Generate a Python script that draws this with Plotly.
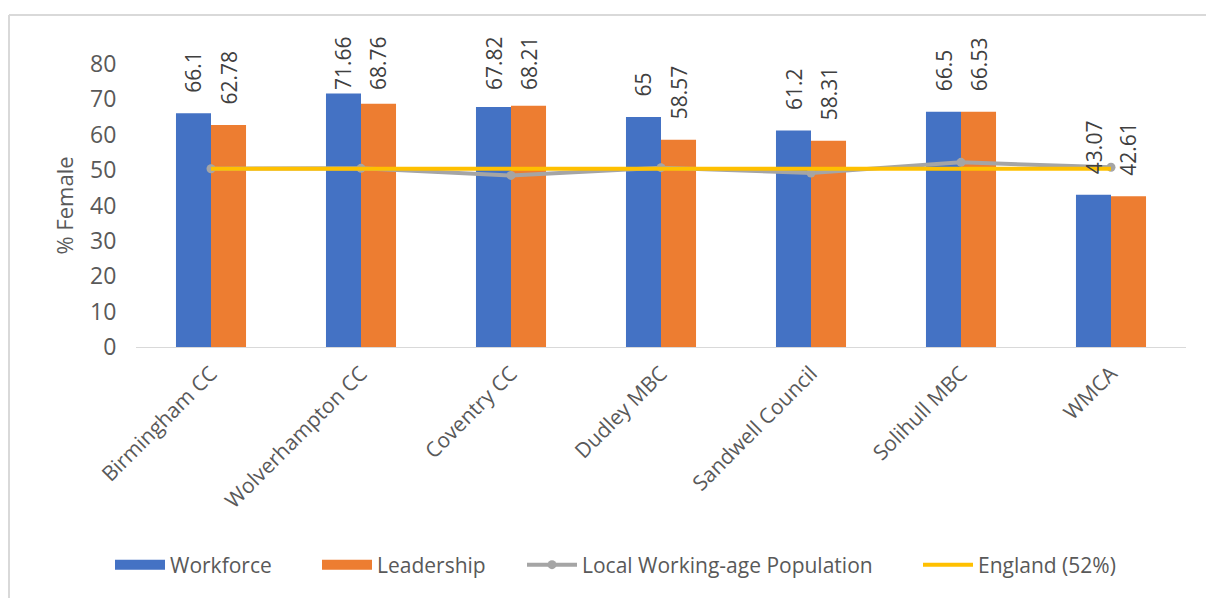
import plotly.graph_objects as go

categories = ["Birmingham CC", "Wolverhampton CC", "Coventry CC", "Dudley MBC",
              "Sandwell Council", "Solihull MBC", "WMCA"]
workforce = [66.1, 71.66, 67.82, 65, 61.2, 66.5, 43.07]
leadership = [62.78, 68.76, 68.21, 58.57, 58.31, 66.53, 42.61]
local_pop = [50.4, 50.5, 48.5, 50.7, 49.2, 52.2, 50.8]
england = [50.4, 50.4, 50.4, 50.4, 50.4, 50.4, 50.4]
y_ticks = [0, 10, 20, 30, 40, 50, 60, 70, 80]

BLUE = "#4472C4"
ORANGE = "#ED7D31"
GRAY = "#A5A5A5"
YELLOW = "#FFC000"
FONT = "Open Sans"
TXT = "#595959"

W, H = 1206, 598
L, R, T, B = 136, 20, 64, 251
PW = W - L - R
PH = H - T - B
Y_MAX = 80
LABEL_TOP_LIMIT = 37  # px from top of page: labels are kept below this


def px_x(v):
    return (v - L) / PW


def px_y(v):
    return (H - B - v) / PH


fig = go.Figure()
fig.add_trace(go.Bar(x=categories, y=workforce, name="Workforce", marker_color=BLUE,
                     marker_line_width=0, showlegend=False))
fig.add_trace(go.Bar(x=categories, y=leadership, name="Leadership", marker_color=ORANGE,
                     marker_line_width=0, showlegend=False))
fig.add_trace(go.Scatter(x=categories, y=local_pop, mode="lines+markers",
                         name="Local Working-age Population",
                         line=dict(color=GRAY, width=4),
                         marker=dict(color=GRAY, size=9), showlegend=False))
fig.add_trace(go.Scatter(x=categories, y=england, mode="lines", name="England (52%)",
                         line=dict(color=YELLOW, width=4), showlegend=False))

# legend entries
fig.add_trace(go.Scatter(x=[None], y=[None], mode="lines", name="Workforce",
                         line=dict(color=BLUE, width=13), legendwidth=142))
fig.add_trace(go.Scatter(x=[None], y=[None], mode="lines", name="Leadership",
                         line=dict(color=ORANGE, width=13), legendwidth=140))
fig.add_trace(go.Scatter(x=[None], y=[None], mode="lines+markers",
                         name="Local Working-age Population",
                         line=dict(color=GRAY, width=4), marker=dict(color=GRAY, size=9),
                         legendwidth=331))
fig.add_trace(go.Scatter(x=[None], y=[None], mode="lines", name="England (52%)",
                         line=dict(color=YELLOW, width=4), legendwidth=160))


# data labels (rotated, above bars, kept below the chart top like Excel does)
def label_shift(v, text):
    bar_top = T + PH * (1 - v / Y_MAX)
    length = 12 * sum(ch.isdigit() for ch in text) + 5.5 * text.count(".")
    room = bar_top - LABEL_TOP_LIMIT - length
    return max(0, min(18, room - 2))


for vals, shift in ((workforce, -17.5), (leadership, 17.5)):
    for c, v in zip(categories, vals):
        t = f"{v:g}"
        fig.add_annotation(x=c, y=v, text=t, textangle=-90, showarrow=False,
                           xshift=shift, yshift=label_shift(v, t), yanchor="bottom",
                           xanchor="center",
                           font=dict(family=FONT, size=21, color="#404040"))

# frame
fig.add_shape(type="line", xref="paper", yref="paper", x0=px_x(9), x1=px_x(1206),
              y0=px_y(15), y1=px_y(15), line=dict(color="#d9d9d9", width=2))
fig.add_shape(type="line", xref="paper", yref="paper", x0=px_x(9), x1=px_x(9),
              y0=px_y(15), y1=px_y(598), line=dict(color="#d9d9d9", width=2))

fig.update_layout(
    width=W, height=H,
    margin=dict(l=L, r=R, t=T, b=B, autoexpand=False),
    paper_bgcolor="white", plot_bgcolor="white",
    barmode="group", bargap=0.533, bargroupgap=0,
    font=dict(family=FONT, color=TXT),
    showlegend=True,
    legend=dict(orientation="h", x=px_x(110), xanchor="left", y=px_y(565),
                yanchor="middle", font=dict(family=FONT, size=21, color=TXT),
                itemwidth=50, traceorder="normal", bgcolor="rgba(0,0,0,0)"),
    xaxis=dict(showline=True, linecolor="#d9d9d9", linewidth=1, showgrid=False,
               tickangle=-45, ticks="outside", ticklen=5, tickcolor="rgba(0,0,0,0)",
               tickfont=dict(family=FONT, size=21, color=TXT), automargin=False),
    yaxis=dict(range=[0, Y_MAX], tickvals=y_ticks, showgrid=False, zeroline=False,
               showline=False, ticks="outside", ticklen=14, tickcolor="rgba(0,0,0,0)",
               tickfont=dict(family=FONT, size=23, color=TXT), automargin=False,
               title=dict(text="% Female", standoff=10,
                          font=dict(family=FONT, size=22, color=TXT))),
)

fig.write_html("out.html")
